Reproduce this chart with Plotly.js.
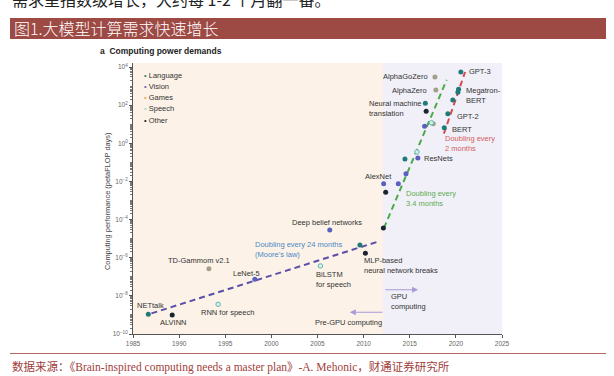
<!DOCTYPE html>
<html>
<head>
<meta charset="utf-8">
<script src="https://cdn.plot.ly/plotly-3.0.1.min.js"></script>
<style>
  html, body { margin: 0; padding: 0; background: #fff; }
  #wrap { position: relative; width: 614px; height: 376px; overflow: hidden; }
  #chart { position: absolute; left: 0; top: 0; width: 614px; height: 376px; }
  .cjk { font-family: "Noto Sans CJK SC", sans-serif; }
  #toptext { position: absolute; left: 12px; top: -9px; font-size: 16px; line-height: 16px; color: #222; white-space: nowrap; }
  #banner { position: absolute; left: 10px; top: 18px; width: 596px; height: 21px; background: #9d4a45; color: #fff; font-size: 16px; line-height: 21px; padding-left: 4px; box-sizing: border-box; white-space: nowrap; font-weight: 300; }
  #rule { position: absolute; left: 10px; top: 353px; width: 596px; height: 1px; background: #b86a64; }
  #source { position: absolute; left: 12px; top: 359px; font-size: 11.5px; line-height: 14px; color: #a0403c; white-space: nowrap; }
  #source .lat { font-family: "Liberation Serif", serif; }
</style>
</head>
<body>
<div id="wrap">
  <div id="chart"></div>
  <div id="toptext" class="cjk">需求呈指数级增长，大约每 1-2 个月翻一番。</div>
  <div id="banner" class="cjk">图1.大模型计算需求快速增长</div>
  <div id="rule"></div>
  <div id="source" class="cjk">数据来源：《<span class="lat">Brain-inspired computing needs a master plan</span>》<span class="lat">-A. Mehonic</span>，财通证券研究所</div>
</div>
<script>
// ---------- data ----------
const categories = ['Language', 'Vision', 'Games', 'Speech', 'Other'];
const legendColors = ['#2e7f5e', '#6a5cb8', '#f0a848', '#a8dcc6', '#222222'];

const languageYears = [1986.66, 2009.6, 2014.48, 2016.69, 2018.74, 2019.13, 2019.67, 2020.22, 2020.29, 2020.54];
const languageVals  = [1.1e-9, 4.7e-6, 0.15, 126, 6.6, 35, 186, 470, 680, 5500];

const visionYears = [1998.21, 2006.33, 2012.17, 2013.76, 2014.59, 2015.88, 2016.61];
const visionVals  = [7.4e-8, 2.8e-5, 7.6e-3, 7.6e-3, 0.025, 0.17, 7.9];

const gamesYears = [1993.23, 2017.73, 2017.83, 2017.55];
const gamesVals  = [2.6e-7, 3000, 620, 10.7];

const speechYears = [1994.23, 2005.32, 2015.78, 2017.35];
const speechVals  = [3.6e-9, 3.7e-7, 0.35, 12];

const otherYears = [1989.25, 2010.19, 2012.14, 2012.39, 2016.78];
const otherVals  = [1.0e-9, 1.7e-6, 3.6e-5, 2.7e-3, 48];

// trend lines
const mooreYears = [1987.0, 2011.8];
const mooreVals  = [1.2e-9, 7.6e-6];
const gpuTrendYears = [2012.2, 2019.0];
const gpuTrendVals  = [3.6e-5, 2.1e3];
const llmTrendYears = [2018.7, 2021.0];
const llmTrendVals  = [3.2, 5.5e3];

// era boundaries
const eraStart = 1985, eraGpu = 2012.1, eraEnd = 2025;

// ticks
const xTickVals = [1985, 1990, 1995, 2000, 2005, 2010, 2015, 2020, 2025];
const xTickText = ['1985', '1990', '1995', '2000', '2005', '2010', '2015', '2020', '2025'];
const yTickVals = [1e-10, 1e-8, 1e-6, 1e-4, 1e-2, 1, 1e2, 1e4];
const yTickText = ['10<sup>−10</sup>', '10<sup>−8</sup>', '10<sup>−6</sup>', '10<sup>−4</sup>',
                   '10<sup>−2</sup>', '10<sup>0</sup>', '10<sup>2</sup>', '10<sup>4</sup>'];

// ---------- styling ----------
const FONT = 'Liberation Sans, Arial, sans-serif';
const ptColors = {
  Language: {fill: '#1f7a78', line: '#1f7a78'},
  Vision:   {fill: '#5a5fc0', line: '#5a5fc0'},
  Games:    {fill: '#a3a08a', line: '#a3a08a'},
  Speech:   {fill: '#d6f0ec', line: '#62b8b0'},
  Other:    {fill: '#1a2430', line: '#1a2430'}
};
const seriesData = {
  Language: [languageYears, languageVals],
  Vision:   [visionYears, visionVals],
  Games:    [gamesYears, gamesVals],
  Speech:   [speechYears, speechVals],
  Other:    [otherYears, otherVals]
};

const traces = [];
function trend(xs, ys, color) {
  traces.push({x: xs, y: ys, mode: 'lines', type: 'scatter', showlegend: false,
    line: {color: color, width: 2, dash: '6px,4px'}, hoverinfo: 'skip'});
}
trend(mooreYears, mooreVals, '#5a4fa6');
trend(gpuTrendYears, gpuTrendVals, '#4aaa48');
trend(llmTrendYears, llmTrendVals, '#d64b4b');

categories.forEach(c => {
  const [xs, ys] = seriesData[c];
  traces.push({x: xs, y: ys, mode: 'markers', type: 'scatter', name: c, showlegend: false,
    marker: {size: c === 'Speech' ? 4.5 : 5, color: ptColors[c].fill,
             line: {color: ptColors[c].line, width: c === 'Speech' ? 1 : 0}}});
});

const annotations = [];
function label(text, x, y, anchor, color) {
  annotations.push({text: text, x: x, y: y, xref: 'x', yref: 'y', showarrow: false,
    xanchor: anchor || 'left', yanchor: 'middle', align: 'left',
    font: {family: FONT, size: 7.5, color: color || '#333'}});
}
label('NETtalk', 1986.95, -8.52, 'center');
label('ALVINN', 1989.38, -9.41, 'center');
label('RNN for speech', 1995.28, -8.85, 'center');
label('TD-Gammom v2.1', 1992.14, -6.17, 'center');
label('LeNet-5', 1997.34, -6.82, 'center');
label('Doubling every 24 months<br>(Moore\u2019s law)', 1997.96, -5.58, 'left', '#4a88c4');
label('Deep belief networks', 2006.03, -4.16, 'center');
label('BiLSTM<br>for speech', 2004.59, -7.14);
label('MLP-based<br>neural network breaks', 2009.79, -6.41);
label('GPU<br>computing', 2012.71, -8.29);
label('Pre-GPU computing', 2004.49, -9.39);
label('AlexNet', 2011.66, -1.75, 'center');
label('Doubling every<br>3.4 months', 2014.41, -2.91, 'left', '#5cad4e');
label('ResNets', 2016.36, -0.82);
label('BERT', 2019.39, 0.73);
label('Doubling every<br>2 months', 2018.59, -0.02, 'left', '#d46060');
label('GPT-2', 2019.93, 1.43);
label('Megatron-<br>BERT', 2020.83, 2.53);
label('GPT-3', 2021.19, 3.75);
label('AlphaGoZero', 2017.21, 3.48, 'right');
label('AlphaZero', 2017.04, 2.79, 'right');
label('Neural machine<br>translation', 2010.41, 1.83);

// era arrows
const arrowStyle = {showarrow: true, arrowhead: 2, arrowsize: 1, arrowwidth: 1.2, arrowcolor: '#a99bd8',
  xref: 'x', yref: 'y', axref: 'x', ayref: 'y', text: ''};
annotations.push(Object.assign({}, arrowStyle, {x: 2015.9, y: -7.68, ax: 2012.2, ay: -7.68}));
annotations.push(Object.assign({}, arrowStyle, {x: 2008.5, y: -8.86, ax: 2012.2, ay: -8.86}));

// legend as annotations
categories.forEach((c, i) => {
  annotations.push({text: '<span style="color:' + legendColors[i] + '">\u2022</span> ' + c,
    xref: 'paper', yref: 'paper', x: 0.024, y: 0.9557 - i * 0.0417,
    xanchor: 'left', yanchor: 'middle', showarrow: false,
    font: {family: FONT, size: 7.5, color: '#333'}});
});

// y axis title
annotations.push({text: 'Computing performance (petaFLOP days)', xref: 'paper', yref: 'paper',
  x: -0.071, y: 0.49, textangle: -90, showarrow: false, xanchor: 'center', yanchor: 'middle',
  font: {family: FONT, size: 7.4, color: '#444'}});

const shapes = [
  {type: 'rect', xref: 'x', yref: 'paper', x0: eraStart, x1: eraGpu, y0: 0, y1: 1,
   fillcolor: '#fcf2e8', line: {width: 0}, layer: 'below'},
  {type: 'rect', xref: 'x', yref: 'paper', x0: eraGpu, x1: eraEnd, y0: 0, y1: 1,
   fillcolor: '#f1f0f9', line: {width: 0}, layer: 'below'}
];

const layout = {
  width: 614, height: 376,
  margin: {l: 133, r: 111.5, t: 63, b: 42, pad: 0},
  paper_bgcolor: 'rgba(0,0,0,0)', plot_bgcolor: 'rgba(0,0,0,0)',
  font: {family: FONT, color: '#333'},
  title: {text: '<b>a</b>  <b>Computing power demands</b>', x: 100 / 614, xanchor: 'left',
          y: 1 - 51 / 376, yanchor: 'middle', font: {family: FONT, size: 8.5, color: '#222'}},
  xaxis: {range: [1985, 2025], tickmode: 'array', tickvals: xTickVals, ticktext: xTickText,
          ticks: 'outside', ticklen: 3, tickcolor: '#555', showline: true, linecolor: '#555',
          linewidth: 1, showgrid: false, zeroline: false,
          tickfont: {family: FONT, size: 6.5, color: '#666'}},
  yaxis: {type: 'log', range: [-10, 4.21], tickmode: 'array', tickvals: yTickVals, ticktext: yTickText,
          ticks: 'outside', ticklen: 3, tickcolor: '#555', showline: true, linecolor: '#555',
          linewidth: 1, showgrid: false, zeroline: false,
          minor: {ticks: 'outside', ticklen: 1.8, tickcolor: '#777', dtick: 'D1', showgrid: false},
          tickfont: {family: FONT, size: 6.5, color: '#666'}},
  shapes: shapes,
  annotations: annotations,
  showlegend: false
};

Plotly.newPlot('chart', traces, layout, {staticPlot: true, displayModeBar: false});
</script>
</body>
</html>
